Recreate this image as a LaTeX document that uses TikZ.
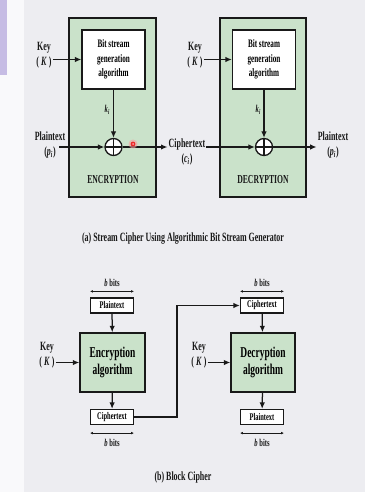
\documentclass[tikz,border=0pt]{standalone}
\usepackage{fontspec}
\setmainfont{Liberation Serif}[FakeStretch=0.63]
\usepackage{xcolor}
\usepackage{tikz}
\usetikzlibrary{arrows.meta}
\definecolor{figline}{RGB}{25,25,25}
\definecolor{figpanel}{RGB}{237,237,241}
\definecolor{figside}{RGB}{249,249,251}
\definecolor{figlav}{RGB}{198,188,228}
\definecolor{figgreen}{RGB}{202,226,202}
\definecolor{figmark}{RGB}{235,40,40}
\tikzset{
  outb/.style ={draw=figline, line width=1.7pt, fill=figgreen, inner sep=0pt},
  genb/.style ={draw=figline, line width=1.2pt, fill=white, align=center, inner sep=0pt,
                minimum width=63pt, minimum height=59pt, font=\bfseries\fontsize{11.4}{14.5}\selectfont},
  algb/.style ={draw=figline, line width=1.4pt, fill=figgreen, align=center, inner sep=0pt,
                minimum width=65pt, minimum height=59pt, font=\bfseries\fontsize{15}{17}\selectfont},
  smb/.style  ={draw=figline, line width=1.2pt, fill=white, inner sep=0pt,
                minimum width=43pt, minimum height=15pt, font=\bfseries\fontsize{10.2}{11}\selectfont},
  xorb/.style ={circle, draw=figline, line width=1.3pt, fill=white, minimum size=17pt, inner sep=0pt,
                path picture={\draw[figline, line width=1.3pt]
                  (path picture bounding box.north) -- (path picture bounding box.south)
                  (path picture bounding box.west) -- (path picture bounding box.east);}},
  lab/.style  ={font=\bfseries\fontsize{12.6}{15.5}\selectfont, align=center, inner sep=1pt, text=figline},
  labs/.style ={font=\bfseries\itshape\fontsize{10.5}{11}\selectfont, inner sep=1pt, text=figline},
  capn/.style ={font=\bfseries\fontsize{12.6}{13}\selectfont, inner sep=1pt, text=figline},
  ptr/.style  ={draw=figline, line width=1.25pt, -{Latex[length=6.5pt,width=5.5pt]}},
  dim/.style  ={draw=figline, line width=0.7pt, {Latex[length=3pt,width=2.6pt]}-{Latex[length=3pt,width=2.6pt]}},
}
\newcommand{\ital}[2]{\textit{#1}\textsubscript{\textit{#2}}}

\begin{document}
\begin{tikzpicture}[x=1pt,y=-1pt]
  \useasboundingbox (0,0) rectangle (365,492);
  \fill[figside] (0,0) rectangle (365,492);
  \fill[figlav] (0,0) rectangle (7,75);
  \fill[figpanel] (24,0) rectangle (365,492);
  \begin{scope}
  \node[outb, minimum width=87pt, minimum height=179pt] (encb) at (112.5,107.5) {};
  \node[outb, minimum width=86pt, minimum height=179pt] (decb) at (263,107.5) {};
  \node[genb] (gen1) at (113.5,59.5) {Bit stream\\generation\\algorithm};
  \node[genb] (gen2) at (264,59.5) {Bit stream\\generation\\algorithm};
  \node[xorb] (x1) at (113.5,147) {};
  \node[xorb] (x2) at (264,147) {};
  \node[lab] (key1) at (44,55) {Key\\(\,\textit{K}\,)};
  \node[lab] (key2) at (195,55) {Key\\(\,\textit{K}\,)};
  \node[labs, left] (ki1) at (111,110) {\ital{k}{i}};
  \node[labs, left] (ki2) at (262,110) {\ital{k}{i}};
  \node[lab] (pt1) at (50,145) {Plaintext\\(\ital{p}{i})};
  \node[lab] (ct1) at (187,152) {Ciphertext\\(\ital{c}{i})};
  \node[lab] (pt2) at (333,145) {Plaintext\\(\ital{p}{i})};
  \node[lab, font=\bfseries\fontsize{12.2}{13}\selectfont] (enc1) at (113,180) {ENCRYPTION};
  \node[lab, font=\bfseries\fontsize{12.2}{13}\selectfont] (dec1) at (263,180) {DECRYPTION};
  \coordinate (p1s) at (59,147);
  \draw[ptr] (key1.east |- gen1) -- (gen1.west);
  \draw[ptr] (key2.east |- gen2) -- (gen2.west);
  \draw[ptr] (gen1) -- (x1);
  \draw[ptr] (gen2) -- (x2);
  \draw[ptr] (p1s) -- (x1);
  \draw[ptr] (x1) -- (ct1.west |- x1);
  \draw[ptr] (ct1.east |- x2) -- (x2);
  \draw[ptr] (x2) -- (pt2.west |- x2);
  \fill[figmark!45, opacity=0.6] (133,144) circle (4.5);
  \fill[figmark] (133,144) circle (2.4);
  \fill[figmark!40] (133,144) circle (1);
  \node[capn] (capa) at (183,239) {(a) Stream Cipher Using Algorithmic Bit Stream Generator};
  \end{scope}
  \begin{scope}
  \node[smb] (pt3) at (112,305.5) {Plaintext};
  \node[algb] (alg1) at (112.5,362.5) {Encryption\\algorithm};
  \node[smb] (ct3) at (112,417) {Ciphertext};
  \node[smb] (ct4) at (262,305.5) {Ciphertext};
  \node[algb, minimum width=64pt] (alg2) at (263,362.5) {Decryption\\algorithm};
  \node[smb] (pt4) at (262,417) {Plaintext};
  \node[lab] (key3) at (47,355) {Key\\(\,\textit{K}\,)};
  \node[lab] (key4) at (199,355) {Key\\(\,\textit{K}\,)};
  \node[labs] (bb1) at (112,283) {b \upshape bits};
  \node[labs] (bb2) at (112,443) {b \upshape bits};
  \node[labs] (bb3) at (262,283) {b \upshape bits};
  \node[labs] (bb4) at (262,443) {b \upshape bits};
  \draw[dim] ([yshift=6pt]pt3.north west) -- ([yshift=6pt]pt3.north east);
  \draw[dim] ([yshift=-8pt]ct3.south west) -- ([yshift=-8pt]ct3.south east);
  \draw[dim] ([yshift=6pt]ct4.north west) -- ([yshift=6pt]ct4.north east);
  \draw[dim] ([yshift=-8pt]pt4.south west) -- ([yshift=-8pt]pt4.south east);
  \coordinate (jn) at (177,417);
  \draw[ptr] (pt3) -- (alg1);
  \draw[ptr] (alg1) -- (ct3);
  \draw[ptr] (ct4) -- (alg2);
  \draw[ptr] (alg2) -- (pt4);
  \draw[ptr] (key3.east |- alg1) -- (alg1.west);
  \draw[ptr] (key4.east |- alg2) -- (alg2.west);
  \draw[ptr] (ct3.east) -- (jn) |- (ct4.west);
  \node[capn] (capb) at (183,477) {(b) Block Cipher};
  \end{scope}
\end{tikzpicture}
\end{document}
